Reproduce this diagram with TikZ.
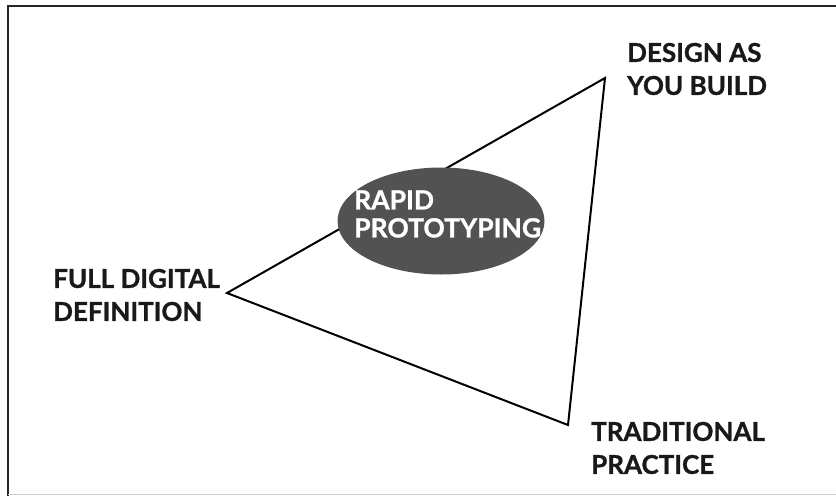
\documentclass[tikz,border=0pt]{standalone}
\usepackage{fontspec}
\setmainfont{Lato}[BoldFeatures={FakeBold=1}]
\usetikzlibrary{shapes.geometric}
\begin{document}
\begin{tikzpicture}[x=1pt,y=-1pt,
    lbl/.style={font=\bfseries\fontsize{26}{33}\selectfont, align=left, anchor=west, inner sep=0pt, text=black!90},
    edge/.style={line width=2pt, line join=miter}]
			\useasboundingbox (0,0) rectangle (836,496);
			% frame
			\draw[line width=2.4pt, black!85] (8,496) -- (8,6) -- (836,6);
			\draw[black!20, line width=1pt] (8,494) -- (836,494);
			% corners of the triangle
			\coordinate (fdd) at (227,293);
			\coordinate (dyb) at (605,78);
			\coordinate (trp) at (568,425);
			\draw[edge] (fdd) -- (dyb) -- (trp) -- cycle;
			\node[ellipse, fill=black!68, minimum width=207pt, minimum height=107pt, inner sep=0pt] (rp) at (441,221) {};
			\node[lbl, text=white, font=\bfseries\fontsize{26.5}{28}\selectfont] (rptext) at (354,214) {RAPID\\PROTOTYPING};
			\node[lbl] (dybtext) at (627,69) {DESIGN AS\\YOU BUILD};
			\node[lbl] (fddtext) at (53,295) {FULL DIGITAL\\DEFINITION};
			\node[lbl] (trptext) at (591,448) {TRADITIONAL\\PRACTICE};
		\end{tikzpicture}
\end{document}
